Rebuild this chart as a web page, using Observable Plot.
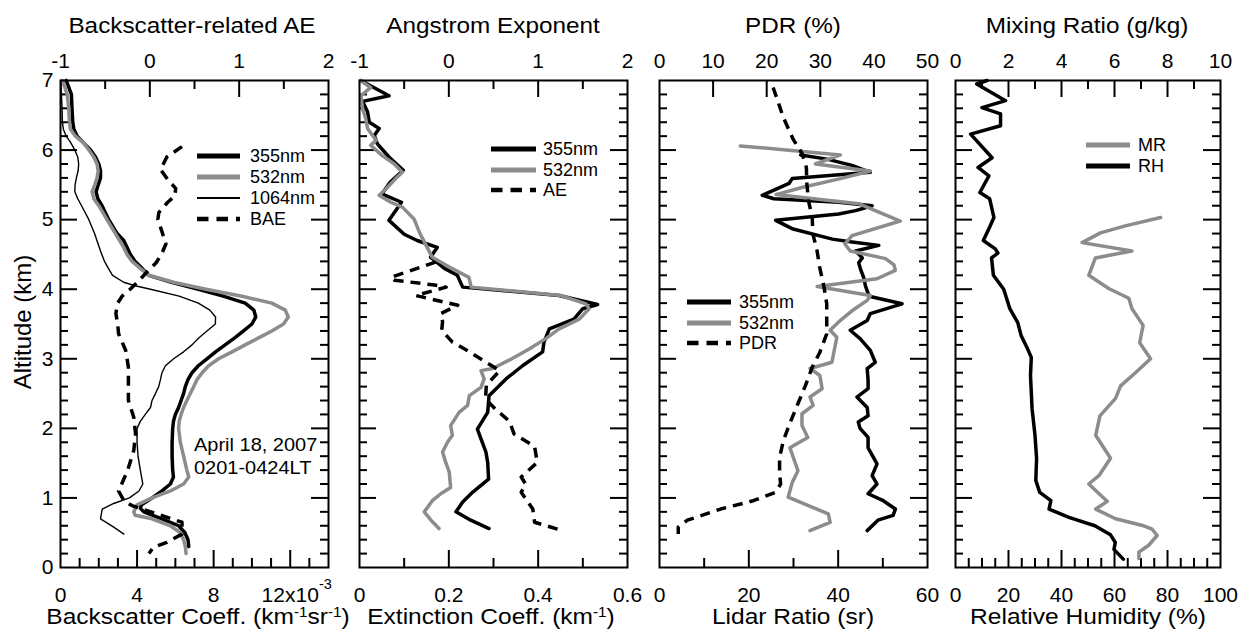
<!DOCTYPE html>
<html>
<head>
<meta charset="utf-8">
<script src="https://cdn.jsdelivr.net/npm/d3@7"></script>
<script src="https://cdn.jsdelivr.net/npm/@observablehq/plot@0.6"></script>
<style>
  html, body { margin: 0; padding: 0; background: #fff; }
  #fig { position: relative; width: 1242px; height: 632px; overflow: hidden; background: #fff;
         font-family: "Liberation Sans", Arial, Helvetica, sans-serif; color: #000; }
  #fig .t { position: absolute; white-space: nowrap; }
  #fig .sup { font-size: 14px; line-height: 0; position: relative; top: -6.5px; }
</style>
</head>
<body>
<div id="fig"></div>
<script>
// ---------------- DATA: [altitude (km), value] ----------------
// Panel 1: backscatter coefficient (x10^-3 km^-1 sr^-1) and backscatter-related AE
const bsc355 = [[7.0,0.3],[6.8,0.57],[6.6,0.6],[6.4,0.64],[6.3,0.7],[6.2,0.87],[6.1,1.22],[6.0,1.57],[5.9,1.83],[5.8,2.0],[5.7,2.09],[5.6,2.09],[5.5,1.97],[5.4,1.86],[5.3,1.95],[5.2,2.17],[5.0,2.52],[4.8,2.96],[4.7,3.3],[4.6,3.48],[4.5,3.65],[4.4,3.9],[4.3,4.26],[4.2,4.6],[4.1,5.8],[4.0,7.2],[3.9,8.5],[3.8,9.65],[3.7,10.1],[3.6,10.2],[3.5,10.0],[3.4,9.56],[3.3,9.1],[3.2,8.6],[3.1,8.1],[3.0,7.65],[2.9,7.2],[2.8,6.87],[2.7,6.66],[2.6,6.52],[2.5,6.43],[2.4,6.3],[2.3,6.17],[2.2,6.0],[2.1,5.9],[2.0,5.86],[1.8,5.83],[1.6,5.83],[1.4,5.86],[1.3,5.9],[1.2,5.74],[1.1,5.3],[1.0,4.78],[0.9,4.23],[0.85,4.17],[0.8,4.35],[0.7,5.3],[0.6,6.17],[0.5,6.5],[0.4,6.66],[0.3,6.7]];
const bsc532 = [[7.0,0.1],[6.8,0.35],[6.6,0.43],[6.4,0.47],[6.3,0.52],[6.2,0.78],[6.1,1.22],[6.0,1.48],[5.9,1.74],[5.8,1.91],[5.7,1.97],[5.6,1.91],[5.5,1.79],[5.4,1.65],[5.3,1.74],[5.2,2.0],[5.0,2.43],[4.8,2.87],[4.6,3.3],[4.5,3.48],[4.4,3.74],[4.3,4.17],[4.2,4.6],[4.1,5.9],[4.0,7.6],[3.9,9.48],[3.8,11.04],[3.7,11.74],[3.6,11.9],[3.5,11.65],[3.4,11.04],[3.3,10.35],[3.2,9.65],[3.1,8.96],[3.0,8.26],[2.9,7.74],[2.8,7.4],[2.7,7.13],[2.6,6.96],[2.5,6.78],[2.4,6.6],[2.3,6.43],[2.2,6.3],[2.1,6.2],[2.0,6.17],[1.8,6.26],[1.6,6.43],[1.4,6.6],[1.3,6.7],[1.2,6.43],[1.1,5.74],[1.0,4.78],[0.9,4.0],[0.8,3.83],[0.75,3.9],[0.7,4.78],[0.6,5.74],[0.5,6.26],[0.4,6.43],[0.3,6.52],[0.2,6.56]];
const bsc1064 = [[7.0,0.02],[6.8,0.05],[6.6,0.08],[6.4,0.1],[6.3,0.15],[6.2,0.3],[6.1,0.55],[6.0,0.75],[5.9,0.9],[5.8,0.95],[5.7,0.92],[5.6,0.83],[5.5,0.76],[5.4,0.75],[5.3,0.9],[5.2,1.1],[5.0,1.48],[4.8,1.78],[4.55,2.09],[4.4,2.3],[4.3,2.5],[4.2,2.72],[4.1,3.3],[4.05,3.9],[4.0,4.7],[3.9,6.2],[3.8,7.2],[3.7,7.8],[3.6,8.1],[3.5,8.09],[3.4,7.65],[3.3,7.22],[3.2,6.87],[3.1,6.43],[3.0,5.91],[2.9,5.48],[2.8,5.3],[2.7,5.22],[2.6,5.13],[2.5,4.96],[2.4,4.78],[2.3,4.7],[2.2,4.43],[2.1,4.17],[2.0,4.0],[1.8,4.0],[1.6,4.05],[1.4,4.17],[1.2,4.3],[1.1,4.1],[1.0,3.6],[0.92,2.78],[0.84,2.18],[0.7,2.09],[0.58,2.78],[0.48,3.31]];
const bae = [[6.05,0.36],[5.9,0.19],[5.72,0.12],[5.56,0.21],[5.45,0.29],[5.34,0.28],[5.25,0.2],[5.1,0.1],[5.0,0.09],[4.85,0.13],[4.65,0.18],[4.5,0.13],[4.38,0.07],[4.25,-0.03],[4.1,-0.14],[4.0,-0.22],[3.9,-0.31],[3.8,-0.36],[3.65,-0.38],[3.5,-0.36],[3.36,-0.35],[3.12,-0.27],[2.88,-0.24],[2.4,-0.24],[2.16,-0.18],[1.92,-0.16],[1.68,-0.18],[1.39,-0.25],[1.1,-0.35],[0.96,-0.29],[0.89,-0.2],[0.77,0.08],[0.65,0.36],[0.48,0.36],[0.36,0.19],[0.29,0.04],[0.2,-0.01]];

// Panel 2: extinction coefficient (km^-1) and Angstrom exponent
const ext355 = [[7.0,0.003],[6.78,0.066],[6.7,0.007],[6.55,0.018],[6.4,0.022],[6.31,0.044],[6.21,0.033],[6.09,0.04],[5.9,0.066],[5.71,0.098],[5.54,0.069],[5.37,0.05],[5.25,0.094],[4.99,0.066],[4.79,0.1],[4.7,0.129],[4.6,0.174],[4.46,0.159],[4.3,0.19],[4.2,0.219],[4.03,0.231],[3.91,0.447],[3.78,0.533],[3.72,0.5],[3.57,0.48],[3.43,0.425],[3.24,0.413],[3.1,0.41],[2.9,0.365],[2.71,0.328],[2.47,0.29],[2.23,0.287],[1.99,0.264],[1.85,0.272],[1.66,0.283],[1.51,0.287],[1.27,0.289],[1.08,0.253],[0.94,0.231],[0.8,0.216],[0.68,0.249],[0.56,0.29]];
const ext532 = [[7.0,0.002],[6.9,0.025],[6.78,0.003],[6.59,0.007],[6.45,0.014],[6.31,0.018],[6.14,0.037],[6.07,0.025],[5.92,0.051],[5.8,0.078],[5.68,0.096],[5.59,0.081],[5.44,0.059],[5.35,0.044],[5.25,0.07],[5.18,0.096],[5.01,0.122],[4.82,0.134],[4.68,0.145],[4.46,0.163],[4.32,0.201],[4.17,0.245],[4.03,0.25],[3.91,0.451],[3.79,0.507],[3.72,0.514],[3.57,0.492],[3.43,0.447],[3.29,0.417],[3.14,0.38],[2.98,0.335],[2.86,0.298],[2.83,0.272],[2.71,0.279],[2.59,0.272],[2.47,0.246],[2.33,0.242],[2.23,0.223],[2.04,0.204],[1.9,0.208],[1.8,0.197],[1.66,0.186],[1.51,0.193],[1.37,0.201],[1.15,0.204],[1.06,0.182],[0.96,0.163],[0.8,0.145],[0.68,0.16],[0.56,0.178]];
const ae = [[4.39,-0.15],[4.17,-0.65],[4.13,-0.61],[4.06,-0.16],[4.03,-0.03],[3.91,-0.37],[3.77,0.10],[3.65,-0.09],[3.53,-0.07],[3.41,-0.08],[3.24,0.04],[3.1,0.23],[2.83,0.57],[2.62,0.42],[2.42,0.41],[2.28,0.52],[2.1,0.68],[1.92,0.73],[1.74,0.96],[1.51,0.99],[1.3,0.81],[1.2,0.86],[1.08,0.81],[0.84,0.94],[0.65,0.96],[0.55,1.22]];

// Panel 3: lidar ratio (sr) and particle depolarization ratio (%)
const lr355 = [[5.93,31.6],[5.87,37.5],[5.78,43.1],[5.68,47.2],[5.59,29.7],[5.52,29.0],[5.35,23.0],[5.30,25.6],[5.25,40.1],[5.2,47.6],[5.13,43.9],[5.08,40.1],[4.99,26.0],[4.87,29.7],[4.72,38.7],[4.68,43.1],[4.63,49.1],[4.55,43.9],[4.45,45.4],[4.38,44.6],[4.29,45.0],[4.17,45.7],[4.05,46.1],[3.9,46.9],[3.79,54.3],[3.65,47.2],[3.55,46.5],[3.41,42.7],[3.29,44.9],[3.12,47.2],[2.95,48.3],[2.86,46.5],[2.69,46.7],[2.57,46.7],[2.45,44.2],[2.3,46.5],[2.18,46.7],[2.09,44.5],[2.0,44.9],[1.87,46.7],[1.72,46.7],[1.49,48.7],[1.32,47.6],[1.2,48.7],[1.06,46.7],[0.96,50.1],[0.84,52.8],[0.75,52.3],[0.68,48.9],[0.53,46.5]];
const lr532 = [[6.06,18.1],[5.93,40.5],[5.8,34.9],[5.7,47.2],[5.59,40.5],[5.47,32.3],[5.36,26.1],[5.23,44.6],[4.98,53.9],[4.77,43.1],[4.65,41.5],[4.55,42.7],[4.44,50.6],[4.35,52.5],[4.27,52.8],[4.15,48.7],[4.04,35.3],[3.91,47.2],[3.84,46.5],[3.69,43.1],[3.53,40.1],[3.41,38.2],[3.31,39.7],[2.95,38.6],[2.86,33.7],[2.76,35.9],[2.57,36.4],[2.45,33.7],[2.33,34.4],[2.21,31.9],[2.04,31.9],[1.87,33.2],[1.72,29.2],[1.39,31.0],[1.22,29.7],[1.01,28.8],[0.77,37.8],[0.65,38.2],[0.53,33.7]];
const pdr = [[6.9,21.2],[6.47,23.1],[6.16,24.9],[5.95,26.6],[5.75,27.4],[5.51,27.5],[5.27,27.8],[5.03,28.5],[4.8,28.6],[4.55,29.4],[4.31,29.9],[4.03,30.7],[3.79,31.2],[3.55,31.2],[3.36,31.2],[3.09,29.9],[2.88,28.5],[2.61,27.2],[2.35,25.8],[2.07,24.3],[1.82,23.1],[1.58,22.4],[1.35,22.4],[1.2,22.6],[1.08,21.6],[0.96,17.5],[0.84,11.4],[0.68,5.2],[0.58,3.5],[0.48,3.5]];

// Panel 4: mixing ratio (g/kg) and relative humidity (%)
const mr = [[5.03,7.74],[4.91,6.41],[4.81,5.47],[4.67,4.78],[4.55,6.66],[4.45,5.28],[4.2,5.03],[4.01,5.78],[3.87,6.54],[3.72,6.66],[3.48,7.08],[3.23,6.95],[3.0,7.36],[2.8,6.79],[2.61,6.23],[2.43,6.04],[2.18,5.45],[1.9,5.29],[1.57,5.85],[1.32,5.41],[1.2,5.03],[0.95,5.73],[0.84,5.29],[0.7,6.04],[0.6,7.1],[0.55,7.42],[0.46,7.61],[0.32,7.29],[0.22,6.92],[0.13,6.92]];
const rh = [[7.0,11.9],[6.95,8.0],[6.71,18.9],[6.61,10.0],[6.52,17.0],[6.35,17.0],[6.23,5.7],[5.89,13.8],[5.75,8.5],[5.63,12.6],[5.39,9.2],[5.3,12.9],[5.03,14.5],[4.87,12.6],[4.7,10.5],[4.58,15.0],[4.52,16.0],[4.45,13.6],[4.2,14.3],[4.0,18.2],[3.72,20.5],[3.52,23.5],[3.33,24.8],[3.16,27.0],[3.02,28.6],[2.76,28.3],[2.28,28.9],[1.9,30.0],[1.57,30.6],[1.25,30.3],[1.08,31.8],[0.96,36.0],[0.84,35.3],[0.72,42.8],[0.6,52.6],[0.47,58.5],[0.36,60.3],[0.26,59.8],[0.12,63.3]];

// Axis tick values
const yLabels = [0, 1, 2, 3, 4, 5, 6, 7];
const yMajor = [1, 2, 3, 4, 5, 6];
const yMinor = d3.range(1, 35).map(i => i / 5).filter(v => !yMajor.includes(v));

// ---------------- LAYOUT ----------------
const FONT = '"Liberation Sans", Arial, Helvetica, sans-serif';
const W = 1242, H = 632, TOP = 80, BOT = 567;
const PL = [60, 359, 659, 955], PR = [328, 627, 927, 1220];
const BLACK = "#000", GRAY = "#8c8c8c";
const TICKFONT = 21;
const fig = document.getElementById("fig");

const str = d => String(d);

function makePlot(i, o) {
  const L = PL[i], R = PR[i], pw = R - L, ph = BOT - TOP;
  const marks = [];
  const tk = {stroke: BLACK, strokeWidth: 2};
  if (o.frame) {
    marks.push(Plot.tickY(yMajor, {y: d => d, insetRight: pw - 17, ...tk}));
    marks.push(Plot.tickY(yMajor, {y: d => d, insetLeft: pw - 17, ...tk}));
    marks.push(Plot.tickY(yMinor, {y: d => d, insetRight: pw - 8, ...tk}));
    marks.push(Plot.tickY(yMinor, {y: d => d, insetLeft: pw - 8, ...tk}));
  }
  const ins = o.anchor === "top" ? "insetBottom" : "insetTop";
  marks.push(Plot.tickX(o.majors, {x: d => d, [ins]: ph - 17, ...tk}));
  marks.push(Plot.tickX(o.minors, {x: d => d, [ins]: ph - 9, ...tk}));
  marks.push(Plot.axisX({anchor: o.anchor, ticks: o.labels, tickSize: 0,
    tickPadding: o.anchor === "top" ? 13 : 19.5, tickFormat: o.fmt || str, label: null, fontSize: TICKFONT}));
  if (o.yAxis) marks.push(Plot.axisY({anchor: "left", ticks: yLabels, tickSize: 0, tickPadding: 7,
    tickFormat: str, label: null, fontSize: TICKFONT}));
  for (const s of o.series) {
    marks.push(Plot.line(s.data, {x: d => d[1], y: d => d[0], stroke: s.color, strokeWidth: s.width,
      strokeDasharray: s.dash, strokeLinejoin: "round", strokeLinecap: s.dash ? "butt" : "round"}));
  }
  if (o.frame) marks.push(Plot.frame({stroke: BLACK, strokeWidth: 2}));
  const svg = Plot.plot({
    width: W, height: H,
    marginLeft: L, marginRight: W - R, marginTop: TOP, marginBottom: H - BOT,
    x: {domain: o.domain, axis: null},
    y: {domain: [0, 7], axis: null},
    style: {position: "absolute", left: "0px", top: "0px", background: "transparent",
            fontFamily: FONT, fontSize: TICKFONT + "px", overflow: "visible", color: "#000"},
    marks
  });
  fig.appendChild(svg);
}

// Panel 1
makePlot(0, {frame: true, yAxis: true, anchor: "bottom", domain: [0, 14],
  majors: [4, 8, 12], minors: [1, 2, 3, 5, 6, 7, 9, 10, 11, 13], labels: [0, 4, 8, 12],
  fmt: d => d === 12 ? "12x10" : String(d),
  series: [
    {data: bsc355, color: BLACK, width: 3.5},
    {data: bsc532, color: GRAY, width: 3.5},
    {data: bsc1064, color: BLACK, width: 1.4}
  ]});
makePlot(0, {anchor: "top", domain: [-1, 2], majors: [0, 1], minors: [-0.5, 0.5, 1.5], labels: [-1, 0, 1, 2],
  series: [{data: bae, color: BLACK, width: 3.5, dash: "10,7"}]});

// Panel 2
makePlot(1, {frame: true, anchor: "bottom", domain: [0, 0.6],
  majors: [0.2, 0.4], minors: [0.1, 0.3, 0.5], labels: [0, 0.2, 0.4, 0.6],
  series: [
    {data: ext355, color: BLACK, width: 3.5},
    {data: ext532, color: GRAY, width: 3.5}
  ]});
makePlot(1, {anchor: "top", domain: [-1, 2], majors: [0, 1], minors: [-0.5, 0.5, 1.5], labels: [-1, 0, 1, 2],
  series: [{data: ae, color: BLACK, width: 3.5, dash: "10,7"}]});

// Panel 3
makePlot(2, {frame: true, anchor: "bottom", domain: [0, 60],
  majors: [20, 40], minors: [10, 30, 50], labels: [0, 20, 40, 60],
  series: [
    {data: lr355, color: BLACK, width: 3.5},
    {data: lr532, color: GRAY, width: 3.5}
  ]});
makePlot(2, {anchor: "top", domain: [0, 50], majors: [10, 20, 30, 40], minors: [], labels: [0, 10, 20, 30, 40, 50],
  series: [{data: pdr, color: BLACK, width: 3.5, dash: "10,7"}]});

// Panel 4
makePlot(3, {frame: true, anchor: "bottom", domain: [0, 100],
  majors: [20, 40, 60, 80], minors: [5, 10, 15, 25, 30, 35, 45, 50, 55, 65, 70, 75, 85, 90, 95],
  labels: [0, 20, 40, 60, 80, 100],
  series: [{data: rh, color: BLACK, width: 3.5}]});
makePlot(3, {anchor: "top", domain: [0, 10], majors: [2, 4, 6, 8], minors: [1, 3, 5, 7, 9], labels: [0, 2, 4, 6, 8, 10],
  series: [{data: mr, color: GRAY, width: 3.5}]});

// ---------------- TEXT ----------------
function addText(html, {x, baseline, size, anchor = "middle", sx = 1}) {
  const d = document.createElement("div");
  d.className = "t";
  d.innerHTML = html;
  d.style.fontSize = size + "px";
  d.style.lineHeight = size + "px";
  d.style.left = x + "px";
  d.style.top = (baseline - 0.8465 * size) + "px";
  const tx = anchor === "middle" ? "-50%" : anchor === "end" ? "-100%" : "0";
  d.style.transformOrigin = anchor === "middle" ? "50% 50%" : anchor === "end" ? "100% 50%" : "0 50%";
  d.style.transform = `translateX(${tx}) scaleX(${sx})`;
  fig.appendChild(d);
  return d;
}
const titles = ["Backscatter-related AE", "Angstrom Exponent", "PDR (%)", "Mixing Ratio (g/kg)"];
const titleX = [192, 493, 793, 1087];
titles.forEach((t, i) => addText(t, {x: titleX[i], baseline: 34, size: 22.5, sx: 1.08}));

const xLabels = [
  'Backscatter Coeff. (km<span class="sup">-1</span>sr<span class="sup">-1</span>)',
  'Extinction Coeff. (km<span class="sup">-1</span>)',
  'Lidar Ratio (sr)',
  'Relative Humidity (%)'
];
const xLabelX = [198, 491, 793, 1088];
xLabels.forEach((t, i) => addText(t, {x: xLabelX[i], baseline: 625, size: 22.5, sx: 1.09}));

addText("-3", {x: 319, baseline: 589, size: 14.5, anchor: "start"});

// Y axis title
{
  const d = document.createElement("div");
  d.className = "t";
  d.textContent = "Altitude (km)";
  d.style.fontSize = "24px"; d.style.lineHeight = "24px";
  d.style.left = "23px"; d.style.top = "322px";
  d.style.transform = "translate(-50%, -50%) rotate(-90deg)";
  fig.appendChild(d);
}

// Date annotation
const dateLines = ["April 18, 2007", "0201-0424LT"];
addText(dateLines[0], {x: 194, baseline: 452, size: 18.5, anchor: "start", sx: 1.08});
addText(dateLines[1], {x: 194, baseline: 475, size: 18.5, anchor: "start", sx: 1.08});

// ---------------- LEGENDS ----------------
function legend(x0, x1, xt, rows) {
  for (const r of rows) {
    const svgNS = "http://www.w3.org/2000/svg";
    const s = document.createElementNS(svgNS, "svg");
    s.setAttribute("width", x1 - x0); s.setAttribute("height", 12);
    s.style.position = "absolute"; s.style.left = x0 + "px"; s.style.top = (r.cy - 6) + "px";
    const ln = document.createElementNS(svgNS, "line");
    ln.setAttribute("x1", 0); ln.setAttribute("x2", x1 - x0);
    ln.setAttribute("y1", 6); ln.setAttribute("y2", 6);
    ln.setAttribute("stroke", r.color); ln.setAttribute("stroke-width", r.width);
    if (r.dash) ln.setAttribute("stroke-dasharray", r.dash);
    s.appendChild(ln);
    fig.appendChild(s);
    addText(r.label, {x: xt, baseline: r.cy + 6.5, size: 18, anchor: "start"});
  }
}
legend(197, 240, 250, [
  {cy: 156, label: "355nm", color: BLACK, width: 4.8},
  {cy: 177, label: "532nm", color: GRAY, width: 4.8},
  {cy: 198, label: "1064nm", color: BLACK, width: 1.8},
  {cy: 219, label: "BAE", color: BLACK, width: 4.5, dash: "11.5,8"}
]);
legend(491, 536, 543, [
  {cy: 149, label: "355nm", color: BLACK, width: 4.8},
  {cy: 169.5, label: "532nm", color: GRAY, width: 4.8},
  {cy: 190, label: "AE", color: BLACK, width: 4.5, dash: "11.5,8"}
]);
legend(687, 731, 739, [
  {cy: 302, label: "355nm", color: BLACK, width: 4.8},
  {cy: 322.5, label: "532nm", color: GRAY, width: 4.8},
  {cy: 343, label: "PDR", color: BLACK, width: 4.5, dash: "11.5,8"}
]);
legend(1086, 1130, 1138, [
  {cy: 145, label: "MR", color: GRAY, width: 4.8},
  {cy: 166, label: "RH", color: BLACK, width: 4.8}
]);
</script>
</body>
</html>
